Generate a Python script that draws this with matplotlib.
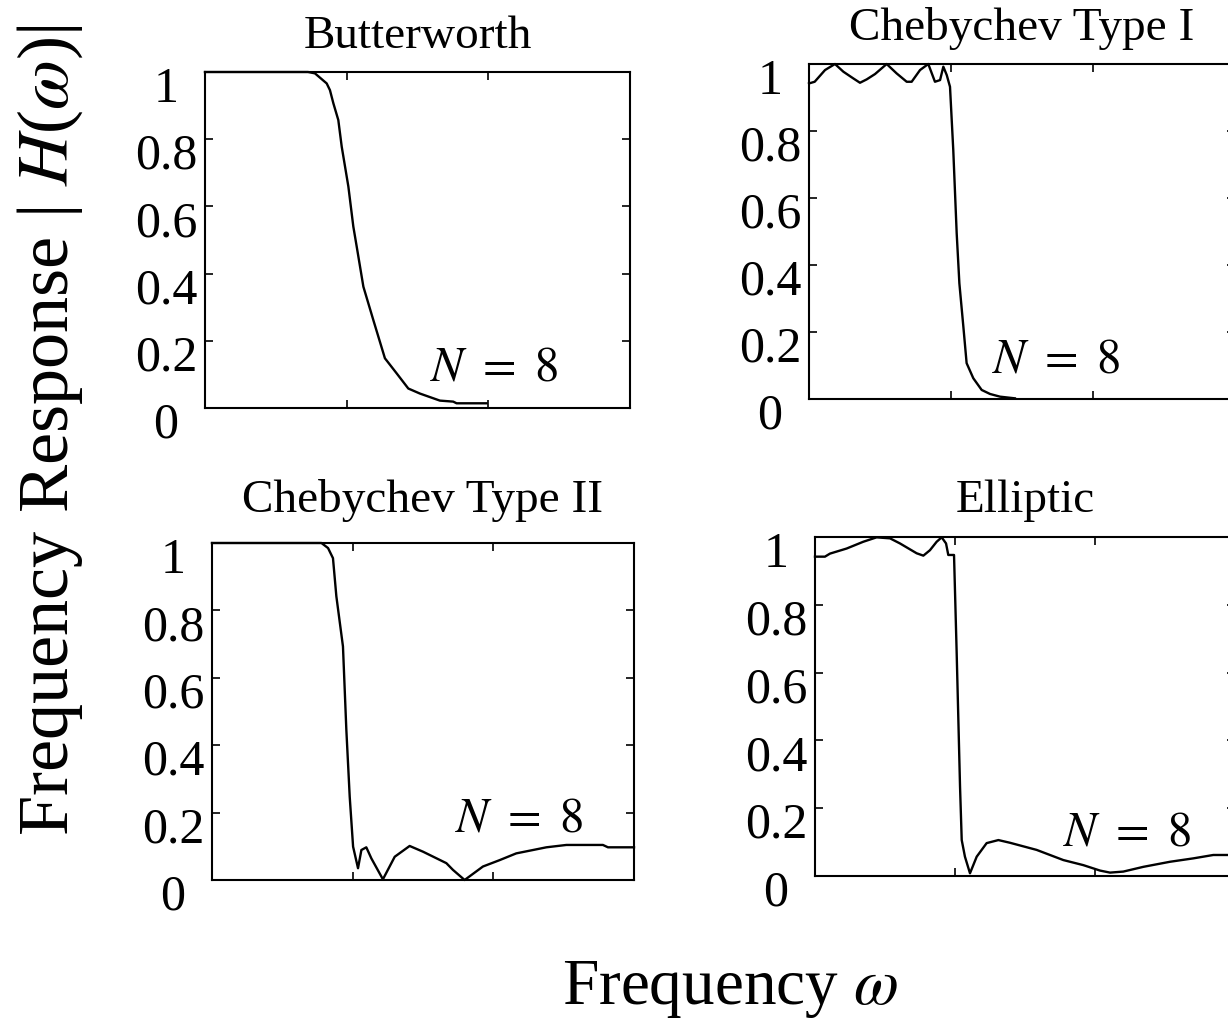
import matplotlib
matplotlib.use("Agg")
import matplotlib.pyplot as plt
import matplotlib.transforms as mtransforms

plt.rcParams['font.family'] = ['Liberation Serif', 'DejaVu Serif']
plt.rcParams['mathtext.fontset'] = 'stix'

# ---------------- data ----------------
titles = ["Butterworth", "Chebychev Type I", "Chebychev Type II", "Elliptic"]

butter_x = [0.0, 0.727, 0.776, 0.859, 0.882, 0.906, 0.941, 0.965, 1.012, 1.047, 1.071,
            1.118, 1.188, 1.270, 1.353, 1.435, 1.517, 1.658, 1.752, 1.776, 1.987]
butter_y = [1.0, 1.0, 0.996, 0.966, 0.946, 0.907, 0.857, 0.778, 0.659, 0.540, 0.480,
            0.361, 0.262, 0.148, 0.103, 0.058, 0.043, 0.022, 0.019, 0.014, 0.014]

cheb1_x = [0.0, 0.04, 0.113, 0.183, 0.242, 0.312, 0.359, 0.406, 0.465, 0.547, 0.617,
           0.688, 0.723, 0.782, 0.840, 0.887, 0.923, 0.946, 0.970, 0.993, 1.016,
           1.040, 1.059, 1.087, 1.110, 1.157, 1.216, 1.275, 1.345, 1.450]
cheb1_y = [0.942, 0.947, 0.982, 1.0, 0.977, 0.957, 0.944, 0.954, 0.970, 1.0, 0.972,
           0.947, 0.947, 0.982, 1.0, 0.947, 0.952, 0.992, 0.967, 0.932, 0.743,
           0.495, 0.345, 0.216, 0.107, 0.062, 0.027, 0.015, 0.007, 0.002]

cheb2_x = [0.0, 0.778, 0.825, 0.860, 0.884, 0.931, 0.955, 0.979, 1.003, 1.038, 1.062,
           1.097, 1.133, 1.215, 1.299, 1.405, 1.500, 1.666, 1.713, 1.796, 1.926,
           2.045, 2.163, 2.282, 2.377, 2.519, 2.779, 2.815, 3.0]
cheb2_y = [1.0, 1.0, 0.985, 0.955, 0.842, 0.693, 0.446, 0.247, 0.099, 0.035, 0.089,
           0.097, 0.064, 0.002, 0.069, 0.101, 0.084, 0.050, 0.030, 0.0, 0.040,
           0.059, 0.079, 0.089, 0.097, 0.104, 0.104, 0.097, 0.097]

ellip_x = [0.0, 0.071, 0.107, 0.226, 0.345, 0.440, 0.536, 0.607, 0.726, 0.774, 0.821,
           0.869, 0.905, 0.936, 0.952, 0.993, 1.012, 1.036, 1.048, 1.071, 1.107,
           1.155, 1.226, 1.310, 1.393, 1.583, 1.774, 1.917, 2.036, 2.107, 2.202,
           2.345, 2.536, 2.702, 2.845, 2.950]
ellip_y = [0.942, 0.942, 0.951, 0.966, 0.986, 0.999, 0.996, 0.981, 0.952, 0.945, 0.961,
           0.986, 0.999, 0.981, 0.947, 0.947, 0.657, 0.263, 0.106, 0.057, 0.008,
           0.057, 0.097, 0.106, 0.098, 0.077, 0.047, 0.032, 0.016, 0.010, 0.013,
           0.027, 0.042, 0.052, 0.062, 0.062]

series_x = [butter_x, cheb1_x, cheb2_x, ellip_x]
series_y = [butter_y, cheb1_y, cheb2_y, ellip_y]

ytick_vals = [0, 0.2, 0.4, 0.6, 0.8, 1]
ytick_labels = ["0", "0.2", "0.4", "0.6", "0.8", "1"]
xtick_vals = [1, 2]
order_label = r"$N\ =\ 8$"

# ---------------- layout ----------------
W, H = 1228, 1026
fig = plt.figure(figsize=(W / 100, H / 100), dpi=100)

def px_rect(left, top, right, bottom):
    return [left / W, 1 - bottom / H, (right - left) / W, (bottom - top) / H]

rects = [px_rect(205, 72, 630, 408),
         px_rect(809, 64, 1235, 399),
         px_rect(212, 543, 634, 880),
         px_rect(815, 537, 1235, 876)]
title_pads = [17, 17, 22, 18]
n_pos = [(0.529, 0.083), (0.429, 0.078), (0.576, 0.143), (0.591, 0.091)]

for i in range(4):
    ax = fig.add_axes(rects[i])
    ax.plot(series_x[i], series_y[i], color='black', lw=1.7, clip_on=False)
    ax.set_xlim(0, 3)
    ax.set_ylim(0, 1)
    ax.set_xticks(xtick_vals)
    ax.set_xticklabels([])
    ax.set_yticks(ytick_vals)
    ax.set_yticklabels(ytick_labels, fontsize=36)
    ax.tick_params(direction='in', length=6, width=1.2, top=True, right=True,
                   pad=28)
    offset = mtransforms.ScaledTranslation(0, -0.12, fig.dpi_scale_trans)
    for lab in ax.get_yticklabels():
        lab.set_horizontalalignment('center')
        lab.set_transform(lab.get_transform() + offset)
    for sp in ax.spines.values():
        sp.set_linewidth(1.5)
    ax.set_title(titles[i], fontsize=34, pad=title_pads[i])
    ax.text(n_pos[i][0], n_pos[i][1], order_label, transform=ax.transAxes,
            fontsize=35, ha='left', va='baseline')

fig.text(50 / W, 1 - 430 / H, r"Frequency Response | $H$($\omega$)|",
         rotation=90, ha='center', va='center', fontsize=52)
fig.text(730 / W, 1 - 990 / H, r"Frequency $\omega$",
         ha='center', va='center', fontsize=47)

fig.savefig("out.png", dpi=100)
